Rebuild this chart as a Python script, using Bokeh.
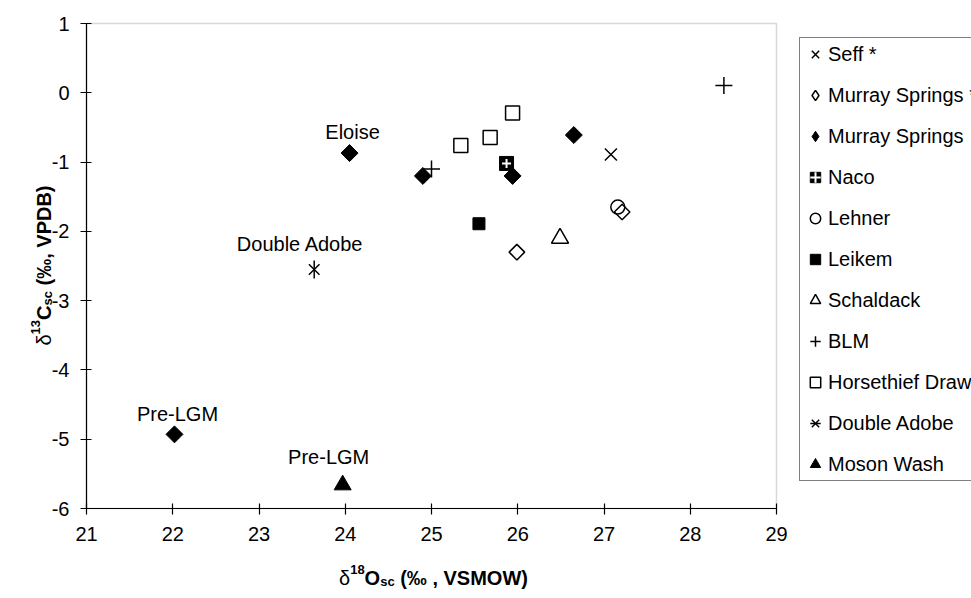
import math
from bokeh.plotting import figure
from bokeh.models import Range1d, FixedTicker, Legend, LegendItem, Label, BoxAnnotation
from bokeh.embed import file_html
from bokeh.resources import INLINE

# ---------------- data ----------------
x_ticks = [21, 22, 23, 24, 25, 26, 27, 28, 29]
y_ticks = [-6, -5, -4, -3, -2, -1, 0, 1]

seff_x = [27.08]
seff_y = [-0.89]
ms_star_x = [25.99, 27.21]
ms_star_y = [-2.30, -1.72]
ms_x = [22.02, 24.05, 24.90, 25.94, 26.65]
ms_y = [-4.93, -0.87, -1.20, -1.20, -0.61]
naco_x = [25.87]
naco_y = [-1.02]
lehner_x = [27.16]
lehner_y = [-1.65]
leikem_x = [25.55]
leikem_y = [-1.89]
schaldack_x = [26.49]
schaldack_y = [-2.10]
blm_x = [25.00, 28.39]
blm_y = [-1.10, 0.105]
horse_x = [25.34, 25.68, 25.94]
horse_y = [-0.76, -0.645, -0.29]
da_x = [23.64]
da_y = [-2.55]
moson_x = [23.97]
moson_y = [-5.66]

series_names = ["Seff *", "Murray Springs *", "Murray Springs", "Naco", "Lehner", "Leikem",
                "Schaldack", "BLM", "Horsethief Draw", "Double Adobe", "Moson Wash"]

ann_text = ["Eloise", "Double Adobe", "Pre-LGM", "Pre-LGM"]
ann_x = [24.05, 23.64, 22.02, 23.97]
ann_y = [-0.87, -2.55, -4.93, -5.66]

# axis title pieces: (text, font px, baseline shift px, weight)
x_title = [("δ", 20, 0, "normal"), ("18", 13, 8, "bold"), ("O", 20, 0, "bold"),
           ("sc", 13, -4, "bold"), (" (‰ , VSMOW)", 20, 0, "bold")]
y_title = [("δ", 20, 0, "normal"), ("13", 13, 8, "bold"), ("C", 20, 0, "bold"),
           ("sc", 13, -4, "bold"), (" (‰, VPDB)", 20, 0, "bold")]

# ---------------- layout (canvas pixels) ----------------
FONT = "Liberation Sans"
CW, CH = 971, 598
PL, PR, PT, PB = 86, 776, 23, 508      # edges of the plotting area
XMIN, XMAX = x_ticks[0], x_ticks[-1]
YMIN, YMAX = y_ticks[0], y_ticks[-1]
kx = (PR - PL) / (XMAX - XMIN)
ky = (PB - PT) / (YMAX - YMIN)

# the frame covers the whole canvas; axes are pinned at the plot-area edges
p = figure(width=CW, height=CH,
           x_range=Range1d(XMIN - PL / kx, XMAX + (CW - PR) / kx),
           y_range=Range1d(YMIN - (CH - PB) / ky, YMAX + PT / ky),
           output_backend="svg", toolbar_location=None, min_border=0)
p.xgrid.visible = False
p.ygrid.visible = False
p.outline_line_color = None
p.background_fill_color = "white"
p.border_fill_color = "white"

p.add_layout(BoxAnnotation(left=XMIN, right=XMAX, bottom=YMIN, top=YMAX, fill_alpha=0,
                           line_color="#808080", line_width=1.5, level="underlay"))

for ax, ticks, loc in ((p.xaxis[0], x_ticks, YMIN), (p.yaxis[0], y_ticks, XMIN)):
    ax.ticker = FixedTicker(ticks=ticks)
    ax.fixed_location = loc
    ax.bounds = (ticks[0], ticks[-1])
    ax.major_label_overrides = {t: str(t) for t in ticks}
    ax.minor_tick_line_color = None
    ax.major_tick_in = 5
    ax.major_tick_out = 6
    ax.axis_line_color = "black"
    ax.axis_line_width = 1.2
    ax.major_tick_line_color = "black"
    ax.major_tick_line_width = 1.2
    ax.major_label_text_font = FONT
    ax.major_label_text_font_size = "20px"
    ax.major_label_text_color = "black"
p.xaxis[0].major_label_standoff = 12
p.yaxis[0].major_label_standoff = 11

LW = 1.5
r_seff = p.scatter(seff_x, seff_y, marker="x", size=17, line_color="black", line_width=LW)
# legend swatches for the diamond series: zero size on the plot (legend glyphs are never rotated)
lg_mss = p.scatter(ms_star_x, ms_star_y, marker="diamond", size=0, line_color="black",
                   fill_color=None, line_width=LW)
lg_ms = p.scatter(ms_x, ms_y, marker="diamond", size=0, line_color="black", fill_color="black")
r_mss = p.scatter(ms_star_x, ms_star_y, marker="square", angle=math.pi / 4, size=11,
                  line_color="black", fill_color=None, line_width=LW)
r_ms = p.scatter(ms_x, ms_y, marker="square", angle=math.pi / 4, size=12,
                 line_color="black", fill_color="black", line_width=1)
r_naco1 = p.scatter(naco_x, naco_y, marker="square", size=14, line_color="black", fill_color="black")
r_naco2 = p.scatter(naco_x, naco_y, marker="cross", size=9, line_color="white", line_width=2)
r_lehner = p.scatter(lehner_x, lehner_y, marker="circle", size=14, line_color="black",
                     fill_color=None, line_width=LW)
r_leikem = p.scatter(leikem_x, leikem_y, marker="square", size=12, line_color="black", fill_color="black")
r_schal = p.scatter(schaldack_x, schaldack_y, marker="triangle", size=17, line_color="black",
                    fill_color=None, line_width=LW)
r_blm = p.scatter(blm_x, blm_y, marker="cross", size=17, line_color="black", line_width=LW)
r_horse = p.scatter(horse_x, horse_y, marker="square", size=14, line_color="black",
                    fill_color=None, line_width=LW)
r_da1 = p.scatter(da_x, da_y, marker="x", size=15, line_color="black", line_width=LW)
r_da2 = p.scatter(da_x, da_y, marker="dash", angle=math.pi / 2, size=18, line_color="black", line_width=LW)
r_moson = p.scatter(moson_x, moson_y, marker="triangle", size=17, line_color="black", fill_color="black")

renderer_groups = [[r_seff], [lg_mss], [lg_ms], [r_naco1, r_naco2], [r_lehner], [r_leikem],
                   [r_schal], [r_blm], [r_horse], [r_da1, r_da2], [r_moson]]

LEG_LEFT, LEG_BOTTOM = 799, 481
legend = Legend(items=[LegendItem(label=n, renderers=g) for n, g in zip(series_names, renderer_groups)],
                location=(LEG_LEFT, CH - LEG_BOTTOM), orientation="vertical",
                glyph_width=26, glyph_height=28, label_height=28, spacing=13, padding=2, margin=0,
                label_standoff=0, label_text_font=FONT, label_text_font_size="20px",
                label_text_color="black",
                border_line_color="black", border_line_width=1,
                background_fill_color="white", background_fill_alpha=1.0)
p.add_layout(legend)

# point annotations
ann_dx = [3, -14, 3, -14]
ann_dy = [21, 25, 20, 28]
for t, xx, yy, dx, dy in zip(ann_text, ann_x, ann_y, ann_dx, ann_dy):
    p.add_layout(Label(x=xx, y=yy, text=t, x_offset=dx, y_offset=dy, text_align="center",
                       text_baseline="middle", text_font=FONT, text_font_size="20px",
                       text_color="black"))

# axis titles built from pieces (super/subscripts); Arial-metric advance widths
W = {" ": 278, "(": 333, ")": 333, ",": 278, "‰": 1000, "V": 667, "S": 667, "M": 833, "O": 778,
     "W": 944, "P": 667, "D": 722, "B": 722, "C": 722, "s": 556, "c": 556, "δ": 556,
     "1": 556, "3": 556, "8": 556}


def seg_width(s, size):
    return sum(W.get(ch, 600) for ch in s) * size / 1000.0


def title_pieces(pieces, center, base, rotated):
    total = sum(seg_width(s, sz) for s, sz, _, _ in pieces)
    pos = center - total / 2.0
    for s, sz, shift, style in pieces:
        lead = len(s) - len(s.lstrip(" "))
        pos += seg_width(" " * lead, sz)          # leading blanks are not drawn, so skip them
        s = s.lstrip(" ")
        if rotated:
            lab = Label(x=base - shift, y=pos, angle=math.pi / 2)
        else:
            lab = Label(x=pos, y=base + shift)
        lab.update(text=s, x_units="screen", y_units="screen", text_align="left",
                   text_baseline="alphabetic", text_font=FONT, text_font_style=style,
                   text_font_size=f"{sz}px", text_color="black")
        p.add_layout(lab)
        pos += seg_width(s, sz)


# screen units: from the canvas' bottom-left corner (frame == canvas)
title_pieces(x_title, center=433, base=CH - 577, rotated=False)
title_pieces(y_title, center=CH - 265, base=43, rotated=True)

open("out.html", "w").write(file_html(p, INLINE))
